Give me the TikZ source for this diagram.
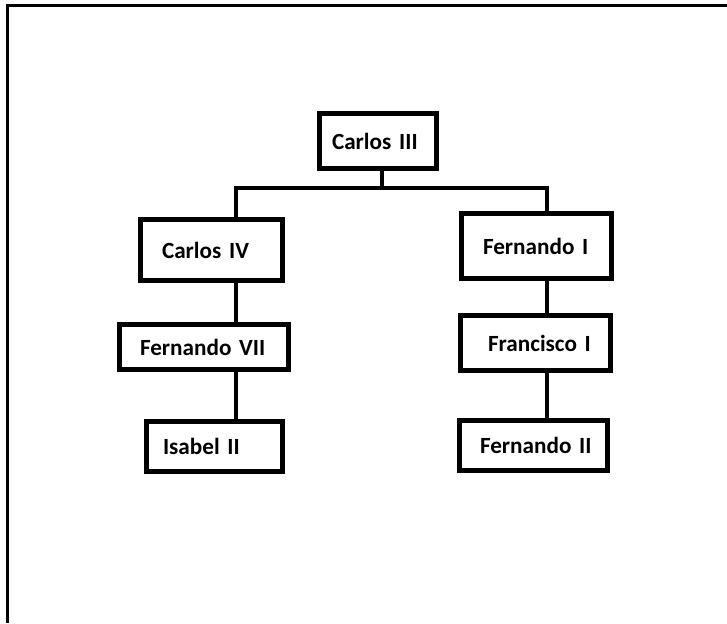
\documentclass[tikz,border=0pt]{standalone}
\usepackage{fontspec}
\setmainfont{Carlito}[WordSpace=0.8]
\newlength\px
\setlength\px{0.02cm}
\begin{document}
\begin{tikzpicture}[
    x=1\px, y=-1\px,
    person/.style={draw, line width=5\px, inner sep=0pt, outer sep=0pt,
                   align=left, font=\bfseries\fontsize{13.2}{15}\selectfont},
    link/.style={line width=3.5\px},
    frame/.style={line width=3\px}]

\useasboundingbox (0,0) rectangle (727,623);
\draw[frame] (7,623) -- (7,5) -- (727,5);

\node[person, text width=117\px, minimum height=55\px] (c3)  at (378,141)   {\hspace*{12.5\px}Carlos III};
\node[person, text width=142\px, minimum height=61\px] (c4)  at (211.5,250) {\hspace*{21.5\px}Carlos IV};
\node[person, text width=150\px, minimum height=65\px] (f1)  at (536.5,246) {\hspace*{21.5\px}Fernando I};
\node[person, text width=169\px, minimum height=45\px] (f7)  at (204,347)   {\hspace*{20.5\px}Fernando VII};
\node[person, text width=150\px, minimum height=55\px] (fr1) at (535.5,343) {\hspace*{27.5\px}Francisco I};
\node[person, text width=136\px, minimum height=50\px] (i2)  at (214.5,446.5) {\hspace*{16.5\px}Isabel II};
\node[person, text width=148\px, minimum height=50\px] (f2)  at (533.5,445.5) {\hspace*{20.5\px}Fernando II};

\coordinate (barL) at (236,188);
\coordinate (barM) at (382,188);
\coordinate (barR) at (547,188);

\draw[link] (c3.south -| barM) -- (barM);
\draw[link] (c4.north -| barL) -- (barL) -- (barR) -- (f1.north -| barR);
\draw[link] (c4.south -| barL) -- (f7.north -| barL);
\draw[link] (f7.south -| barL) -- (i2.north -| barL);
\draw[link] (f1.south -| barR) -- (fr1.north -| barR);
\draw[link] (fr1.south -| barR) -- (f2.north -| barR);

\end{tikzpicture}
\end{document}
